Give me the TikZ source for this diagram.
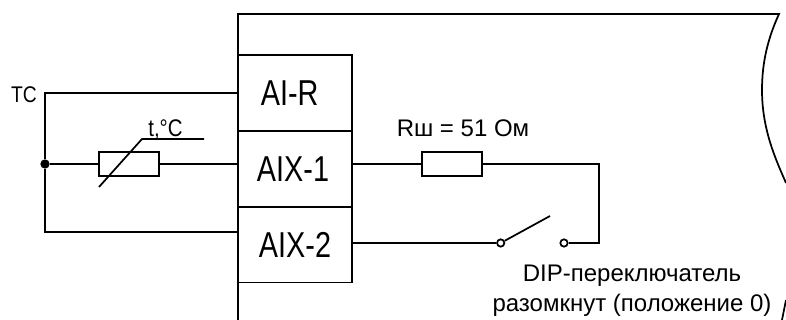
\documentclass[tikz,border=0pt]{standalone}
\usepackage{fontspec}
\setmainfont{Liberation Sans}
\usepackage{graphicx}
\tikzset{
  wire/.style={line width=1.3pt},
  termbox/.style={draw,line width=1.4pt,minimum width=85.5pt,inner sep=0pt,font=\fontsize{27}{27}\selectfont},
  resbox/.style={draw,line width=1.3pt,minimum width=45.5pt,minimum height=18.5pt,inner sep=0pt},
  contact/.style={circle,draw,line width=1.3pt,fill=white,minimum size=5.5pt,inner sep=0pt},
  dot/.style={circle,fill=black,minimum size=7pt,inner sep=0pt},
  lab/.style={inner sep=0pt,font=\fontsize{18}{22.5}\selectfont}
}
\begin{document}
\begin{tikzpicture}[x=0.75pt,y=-0.75pt]
    \useasboundingbox (0,0) rectangle (786,320);
    % device outline
    \coordinate (TL) at (238,14);
    \coordinate (BL) at (238,320);
    \coordinate (TR) at (779,14);
    \coordinate (CR) at (786,183);
    \draw [wire] (BL) -- (TL) -- (TR)
        .. controls (768,38) and (762,62) .. (762,90)
        .. controls (762,130) and (776,160) .. (CR);
    \draw [wire] (786,300) -- (782,320);
    % terminals
    \node [termbox,minimum height=57pt] (air) at (295,93) {\raisebox{-2pt}{\hspace{-8pt}\scalebox{0.8}[1]{AI-R}}};
    \node [termbox,minimum height=56.5pt] (aix1) at (295,169) {\hspace{-3pt}\scalebox{0.8}[1]{AIX-1}};
    \node [termbox,minimum height=57pt] (aix2) at (295,244.5) {\scalebox{0.8}[1]{AIX-2}};
    % left part
    \node [dot] (J) at (45,164) {};
    \node [resbox] (Rt) at (129,164) {};
    \coordinate (TC) at (45,93);
    \coordinate (LB) at (45,232);
    \node [lab,font=\fontsize{17}{17}\selectfont,left=6pt,yshift=-1pt] (tclab) at (TC) {\scalebox{0.85}[1]{TC}};
    \draw [wire] (air.west) -- (TC) -- (J) -- (LB) -- (aix2.west |- LB);
    \draw [wire] (J) -- (Rt.west);
    \draw [wire] (Rt.east) -- (aix1.west |- Rt);
    \coordinate (S1) at (99,187);
    \coordinate (S2) at (142,139);
    \coordinate (S3) at (204,139);
    \draw [wire] (S1) -- (S2) -- (S3);
    \node [lab,anchor=base] (tlab) at (165.5,137) {\scalebox{0.85}[1]{t,°C}};
    % right part
    \node [resbox] (Rs) at (452,164) {};
    \node [lab,anchor=base] (rslab) at (463,137) {Rш = 51 Ом};
    \node [contact] (K1) at (500.7,243) {};
    \node [contact] (K2) at (564,243) {};
    \coordinate (C1) at (599,164);
    \coordinate (C2) at (599,243);
    \coordinate (K3) at (550,216);
    \draw [wire] (aix1.east |- Rs) -- (Rs.west);
    \draw [wire] (Rs.east) -- (C1) -- (C2) -- (K2);
    \draw [wire] (aix2.east |- K1) -- (K1);
    \draw [wire] (K1) -- (K3);
    \node [lab,align=center] (diplab) at (632,291) {DIP-переключатель\\разомкнут (положение 0)};
\end{tikzpicture}
\end{document}
